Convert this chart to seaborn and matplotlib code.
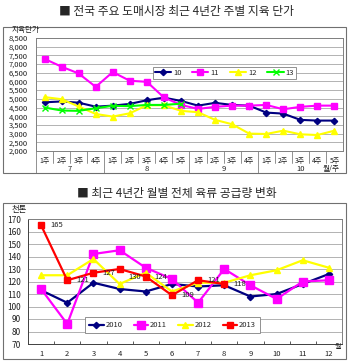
import numpy as np
import pandas as pd
import matplotlib
matplotlib.use('Agg')
import matplotlib.pyplot as plt
import matplotlib.transforms as mtransforms
from matplotlib.patches import Rectangle
import seaborn as sns

# ---------------- data ----------------
top_title = "■ 전국 주요 도매시장 최근 4년간 주별 지육 단가"
top_ylabel = "지육단가"
week_labels = ['1주', '2주', '3주', '4주',
               '1주', '2주', '3주', '4주', '5주',
               '1주', '2주', '3주', '4주',
               '1주', '2주', '3주', '4주', '5주']
month_labels = ['7', '8', '9', '10']
month_weeks = [4, 5, 4, 5]
top_names = ['10', '11', '12', '13']
s10 = [4800, 4850, 4780, 4550, 4610, 4710, 4920, 5070, 4880,
       4610, 4770, 4650, 4610, 4210, 4150, 3790, 3750, 3750]
s11 = [7300, 6850, 6460, 5690, 6540, 6040, 5980, 5080, 4650,
       4420, 4540, 4610, 4610, 4650, 4400, 4540, 4610, 4610]
s12 = [5100, 4980, 4560, 4130, 3980, 4170, 4630, 4630, 4310,
       4230, 3790, 3540, 3000, 2980, 3170, 2960, 2920, 3170]
s13 = [4500, 4330, 4310, 4460, 4600, 4580, 4650, 4650, 4720]
top_yticks = list(range(2000, 8501, 500))

bot_title = "■ 최근 4년간 월별 전체 육류 공급량 변화"
bot_ylabel = "천톤"
months = list(range(1, 13))
bot_names = ['2010', '2011', '2012', '2013']
y2010 = [113, 103, 119, 114, 112, 118, 116, 117, 108, 110, 118, 126]
y2011 = [114, 86, 142, 145, 131, 122, 103, 130, 117, 106, 120, 121]
y2012 = [125, 125, 138, 118, 127, 112, 119, 119, 125, 129, 137, 131]
y2013 = [165, 121, 127, 130, 124, 109, 121, 118]
bot_yticks = list(range(70, 171, 10))

# ---------------- style ----------------
sns.set_theme(style="white")
plt.rcParams['font.family'] = ['Noto Sans CJK KR', 'DejaVu Sans']

W, H = 350, 363
fig = plt.figure(figsize=(W / 100, H / 100), dpi=100)
fig.patch.set_facecolor('white')


def box(l, t, r, b):
    return [l / W, 1 - b / H, (r - l) / W, (b - t) / H]


def fpx(x, y):
    return x / W, 1 - y / H


grid_c = '#A6A6A6'
frame_c = '#808080'
txt_c = '#202020'

# outer frames
for (l, t, r, b) in [(3, 27, 346, 173), (3, 203, 346, 359)]:
    fig.patches.append(Rectangle((l / W, 1 - b / H), (r - l) / W, (b - t) / H,
                                 transform=fig.transFigure, fill=False,
                                 edgecolor='#707070', lw=0.8))

# titles
fig.text(*fpx(177, 12), top_title, ha='center', va='center', fontsize=8.5)
fig.text(*fpx(177, 193), bot_title, ha='center', va='center', fontsize=8.5)

# ---------------- top chart ----------------
ax1 = fig.add_axes(box(36, 38, 343, 151))
x_idx = list(range(len(week_labels)))
top_styles = [
    (s10, '#000080', 'D', 3.2),
    (s11, '#FF00FF', 's', 5.0),
    (s12, '#FFFF00', '^', 4.5),
    (s13, '#00FF00', 'x', 4.0),
]
for name, (vals, col, mk, ms) in zip(top_names, top_styles):
    df = pd.DataFrame({'x': x_idx[:len(vals)], 'y': vals})
    sns.lineplot(data=df, x='x', y='y', ax=ax1, color=col, marker=mk,
                 markersize=ms, markeredgecolor=col, markeredgewidth=1.0,
                 linewidth=1.5, label=name)

ax1.set_xlim(-0.5, len(week_labels) - 0.5)
ax1.set_ylim(top_yticks[0], top_yticks[-1])
ax1.set_yticks(top_yticks)
ax1.set_yticklabels([f"{v:,}" for v in top_yticks], fontsize=5.5, color=txt_c)
ax1.set_xticks(x_idx)
ax1.set_xticklabels(week_labels, fontsize=5, color=txt_c)
ax1.tick_params(axis='both', length=0)
ax1.tick_params(axis='y', pad=6)
ax1.tick_params(axis='x', pad=4)
ax1.set_xlabel('')
ax1.set_ylabel('')
ax1.yaxis.grid(True, color=grid_c, lw=0.6)
ax1.xaxis.grid(False)
for sp in ax1.spines.values():
    sp.set_color(frame_c)
    sp.set_linewidth(0.7)

# separators and month labels
trans1 = mtransforms.blended_transform_factory(ax1.transData, ax1.transAxes)
bounds = np.cumsum([0] + month_weeks)
month_bounds = set(bounds.tolist())
for i in range(len(week_labels)):
    long = i in month_bounds
    ax1.plot([i - 0.5, i - 0.5], [0, -0.195 if long else -0.11],
             transform=trans1, color=frame_c, lw=0.6, clip_on=False)
for k, lab in enumerate(month_labels):
    cx = (bounds[k] + bounds[k + 1] - 1) / 2
    ax1.text(cx, -0.16, lab, transform=trans1, ha='center', va='center',
             fontsize=5.5, color=txt_c)
ax1.text(len(week_labels) - 1.2, -0.16, '월/주', transform=trans1,
         ha='center', va='center', fontsize=5.5, color=txt_c)
fig.text(*fpx(12, 30), top_ylabel, ha='left', va='center', fontsize=5.5,
         color=txt_c)

leg1 = ax1.legend(ncol=4, loc='upper left',
                  bbox_to_anchor=fpx(153, 67), bbox_transform=fig.transFigure,
                  fontsize=5.5, frameon=True, fancybox=False,
                  edgecolor=frame_c, framealpha=1, handlelength=2.1,
                  handletextpad=0.3, columnspacing=1.4, borderpad=0.25,
                  borderaxespad=0)
leg1.get_frame().set_linewidth(0.6)

# ---------------- bottom chart ----------------
ax2 = fig.add_axes(box(28, 219, 342, 344))
bot_styles = [
    (y2010, '#000080', 'D', 3.2),
    (y2011, '#FF00FF', 's', 5.5),
    (y2012, '#FFFF00', '^', 4.5),
    (y2013, '#FF0000', 's', 4.8),
]
for name, (vals, col, mk, ms) in zip(bot_names, bot_styles):
    df = pd.DataFrame({'x': months[:len(vals)], 'y': vals})
    sns.lineplot(data=df, x='x', y='y', ax=ax2, color=col, marker=mk,
                 markersize=ms, markeredgecolor=col, markeredgewidth=1.0,
                 linewidth=1.6, label=name)

for m, v in zip(months, y2013):
    off = (6, -6) if m == 4 else (6.5, 0)
    ax2.annotate(str(v), (m, v), xytext=off, textcoords='offset points',
                 ha='left', va='center', fontsize=5.5, color=txt_c)

ax2.set_xlim(0.5, 12.5)
ax2.set_ylim(bot_yticks[0], bot_yticks[-1])
ax2.set_yticks(bot_yticks)
ax2.set_yticklabels([str(v) for v in bot_yticks], fontsize=6, color=txt_c)
ax2.set_xticks(months)
ax2.set_xticklabels([str(m) for m in months], fontsize=5.5, color=txt_c)
ax2.set_xticks(np.arange(1.5, 12.5, 1), minor=True)
ax2.tick_params(axis='both', which='major', length=0)
ax2.tick_params(axis='y', pad=5)
ax2.tick_params(axis='x', pad=4)
ax2.tick_params(axis='x', which='minor', direction='in', length=2,
                color='#404040', width=0.6, bottom=True)
ax2.set_xlabel('')
ax2.set_ylabel('')
ax2.yaxis.grid(True, color=grid_c, lw=0.6)
ax2.xaxis.grid(False)
for key, sp in ax2.spines.items():
    sp.set_linewidth(0.7)
    sp.set_color('#404040' if key in ('left', 'bottom') else frame_c)

fig.text(*fpx(12, 209), bot_ylabel, ha='left', va='center', fontsize=6,
         color=txt_c)
fig.text(*fpx(338, 347), '월', ha='center', va='center', fontsize=5,
         color=txt_c)

leg2 = ax2.legend(ncol=4, loc='upper left',
                  bbox_to_anchor=fpx(85, 317), bbox_transform=fig.transFigure,
                  fontsize=5.5, frameon=True, fancybox=False,
                  edgecolor=frame_c, framealpha=1, handlelength=1.9,
                  handletextpad=0.2, columnspacing=1.5, borderpad=0.55,
                  borderaxespad=0)
leg2.get_frame().set_linewidth(0.6)

fig.savefig('out.png', dpi=100, facecolor='white')
